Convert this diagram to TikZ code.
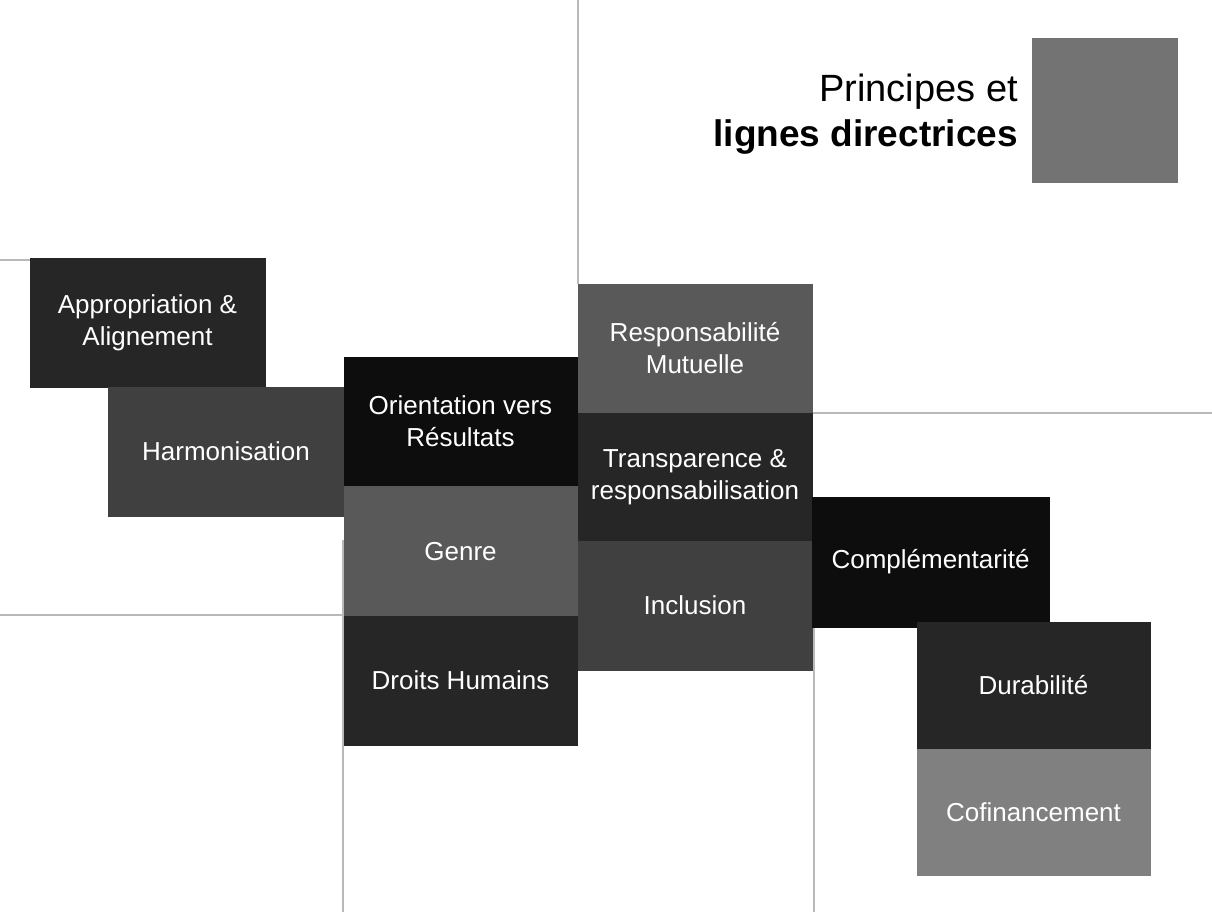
\documentclass[tikz,border=0pt]{standalone}
\usepackage{fontspec}
\setmainfont{Liberation Sans}
\usetikzlibrary{positioning}

\definecolor{shadeA}{HTML}{0D0D0D}
\definecolor{shadeB}{HTML}{262626}
\definecolor{shadeC}{HTML}{404040}
\definecolor{shadeD}{HTML}{595959}
\definecolor{shadeE}{HTML}{737373}
\definecolor{shadeF}{HTML}{808080}

\begin{document}
\begin{tikzpicture}[x=1pt,y=-1pt,
   box/.style={minimum width=235pt,minimum height=129pt,inner sep=0pt,
     text=white,align=center,font=\fontsize{26}{32}\selectfont},
   tone/.style={fill=#1,draw=#1,line width=0.6pt},
   rule/.style={color=gray!55,line width=1.5pt}]
   \fill[white] (0,0) rectangle (1212,912);
   \useasboundingbox (0,0) rectangle (1212,912);
   % thin frame lines
   \draw[rule] (578,0) -- (578,284);
   \draw[rule] (0,260) -- (30,260);
   \draw[rule] (812,413) -- (1212,413);
   \draw[rule] (0,615) -- (344,615);
   \draw[rule] (343,540) -- (343,912);
   \draw[rule] (814,627) -- (814,912);
   % title
   \fill[shadeE] (1032,38) rectangle (1178,183);
   \node[anchor=base east,inner sep=0pt,font=\fontsize{38}{45}\selectfont] (title1) at (1018,102) {Principes et};
   \node[anchor=base east,inner sep=0pt,font=\fontsize{37}{45}\selectfont\bfseries] (title2) at (1018,147) {lignes directrices};
   % boxes
   \node[box,tone=shadeB] (appro) at (147.5,322.5) {Appropriation \&\\Alignement};
   \node[box,tone=shadeC] (harmo) at (226,451.5) {Harmonisation};
   \node[box,tone=shadeA,minimum width=233pt] (orient) at (460.5,421.5) {Orientation vers\\Résultats};
   \node[box,tone=shadeD,minimum width=233pt,below=0pt of orient] (genre) {Genre};
   \node[box,tone=shadeB,minimum width=233pt,below=0pt of genre] (droits) {Droits Humains};
   \node[box,tone=shadeD,minimum width=234pt] (respo) at (695,348.5) {Responsabilité\\Mutuelle};
   \node[box,tone=shadeB,minimum width=234pt,minimum height=127pt,below=0pt of respo] (transp) {Transparence \&\\responsabilisation};
   \node[box,tone=shadeC,minimum width=234pt,below=0pt of transp] (inclu) {Inclusion};
   \node[box,tone=shadeA,minimum width=237pt,minimum height=130pt] (compl) at (930.5,562) {Complémentarité};
   \node[box,tone=shadeB,minimum width=233pt,minimum height=127pt] (dura) at (1033.5,685.5) {Durabilité};
   \node[box,tone=shadeF,minimum width=233pt,minimum height=126pt,below=0pt of dura] (cofin) {Cofinancement};
\end{tikzpicture}
\end{document}
